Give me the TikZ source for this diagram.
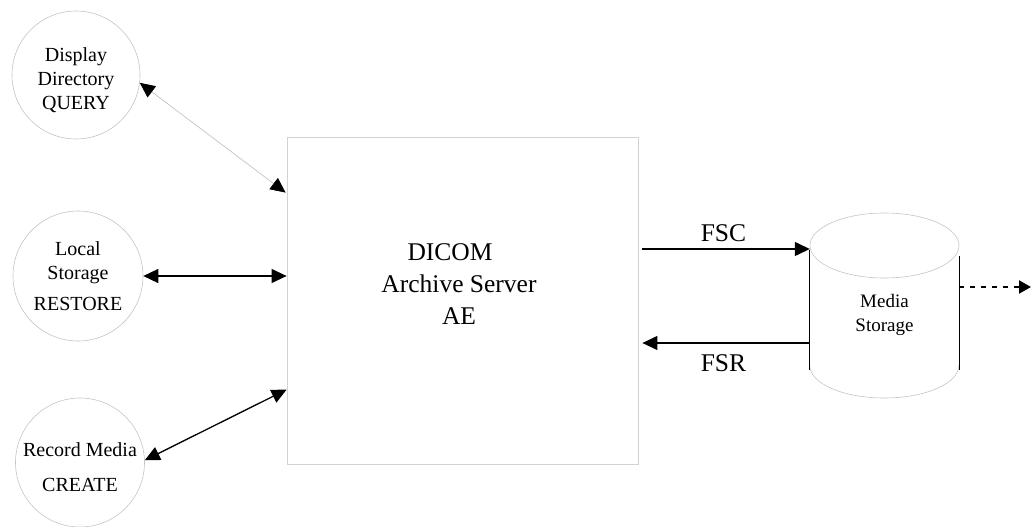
\documentclass[tikz,border=0pt]{standalone}
\usepackage{fontspec}
\setmainfont{Liberation Serif}
\usetikzlibrary{arrows.meta,calc}
\definecolor{lgray}{HTML}{C4C4C4}
\definecolor{bgray}{HTML}{D2D2D2}
\begin{document}
\begin{tikzpicture}[x=1pt,y=-1pt,
  ahead/.style={-{Triangle[length=15pt,width=14pt]}},
  dhead/.style={{Triangle[length=15pt,width=14pt,black]}-{Triangle[length=15pt,width=14pt,black]}},
  bubble/.style={circle,draw=lgray,line width=0.6pt,minimum size=#1,inner sep=0pt},
  ctext/.style={align=center,inner sep=0pt,font=\fontsize{20}{24}\selectfont},
  btext/.style={align=center,inner sep=0pt,font=\fontsize{25.5}{32}\selectfont},
  conn/.style={line width=1.3pt},
]
\useasboundingbox (0,0) rectangle (1031,527);
% clients
\node[bubble=128pt] (q) at (76,75) {};
\node[ctext] (qt) at (76,80) {Display\\Directory\\QUERY};
\node[bubble=130pt] (ls) at (78,276) {};
\node[ctext] (lst) at (78,276) {Local\\Storage\\[7pt]RESTORE};
\node[bubble=129pt] (rm) at (80,462.5) {};
\node[ctext] (rmt) at (80,467.5) {Record Media\\[11pt]CREATE};
% AE box
\node[draw=bgray,line width=0.8pt,minimum width=351pt,minimum height=327pt,inner sep=0pt] (main) at (462.5,300.5) {};
\node[btext] (mt) at (459,284) {DICOM\hspace*{18pt}\\Archive Server\\AE};
% media storage cylinder
\node[minimum width=149pt,minimum height=185pt,inner sep=0pt] (ms) at (884.5,305.5) {};
\draw[lgray,line width=0.6pt] (884.5,245.5) ellipse[x radius=74.5,y radius=32.5];
\draw[lgray,line width=0.6pt] (ms.west |- 0,365.5) arc[start angle=180,end angle=360,x radius=74.5,y radius=-32.5];
\draw[line width=1.2pt] (ms.west |- 0,250) -- (ms.west |- 0,370);
\draw[line width=1.2pt] (ms.east |- 0,256) -- (ms.east |- 0,370);
\node[ctext,font=\fontsize{19}{24}\selectfont] (mst) at (884.5,315) {Media\\Storage};
% connectors
\draw[dhead,lgray,line width=0.7pt] (q.-7) -- ($(main.north west)+(-1,56)$);
\draw[dhead,conn] (ls.east) -- (main.west |- ls.east);
\draw[dhead,conn] (rm.2) -- ($(main.north west)+(0,253)$);
\draw[ahead,conn] ($(main.east |- 0,249)+(4,0)$) -- (ms.west |- 0,249);
\draw[ahead,conn] (ms.west |- 0,343) -- ($(main.east |- 0,343)+(4,0)$);
\node[btext] (fsc) at (723.5,233) {FSC};
\node[btext] (fsr) at (723.5,363) {FSR};
\coordinate (out) at (1031,287);
\draw[-{Triangle[length=12pt,width=13pt]},line width=2.2pt,dash pattern=on 5pt off 6pt] (ms.east |- out) -- (out);
\end{tikzpicture}
\end{document}
